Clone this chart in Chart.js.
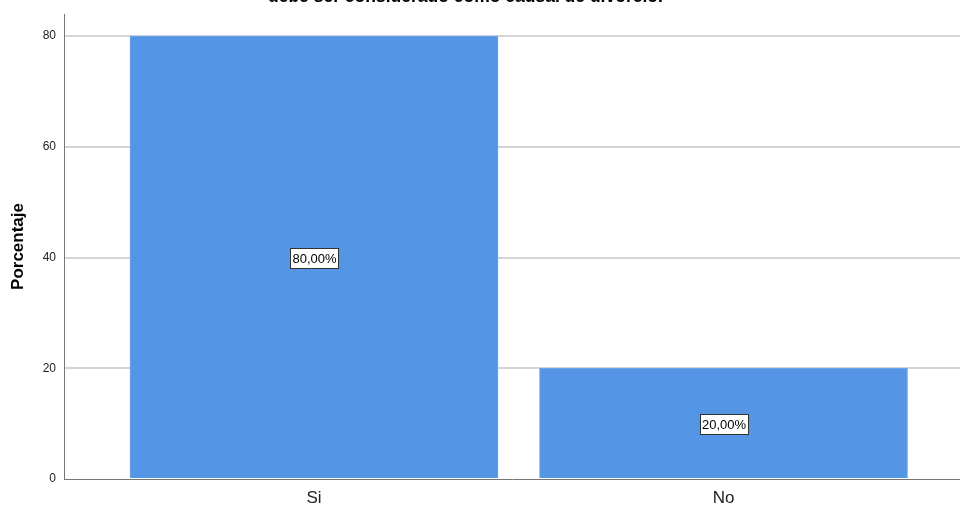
<!DOCTYPE html>
<html>
<head>
<meta charset="utf-8">
<script src="https://cdn.jsdelivr.net/npm/chart.js@4.4.1/dist/chart.umd.min.js"></script>
<style>
    html, body { margin: 0; padding: 0; background: #fff; overflow: hidden; }
    #wrap { position: absolute; left: 0; top: -16px; width: 960px; height: 524px; }
</style>
</head>
<body>
<div id="wrap"><canvas id="graph"></canvas></div>
<script>
// data
var categories = ['Si', 'No'];
var porcentaje = [80, 20];
var etiquetas = ['80,00%', '20,00%'];
var yTicks = [0, 20, 40, 60, 80];

var fontFam = '"Liberation Sans", Arial, sans-serif';

// white boxes with the percentage in the middle of each bar
var boxLabels = {
    id: 'boxLabels',
    afterDatasetsDraw: function (chart) {
        var ctx = chart.ctx;
        var meta = chart.getDatasetMeta(0);
        var yScale = chart.scales.y;
        ctx.save();
        ctx.font = '13px ' + fontFam;
        ctx.textAlign = 'center';
        ctx.textBaseline = 'middle';
        meta.data.forEach(function (bar, i) {
            var x = bar.x;
            var y = yScale.getPixelForValue(porcentaje[i] / 2);
            var w = Math.round(ctx.measureText(etiquetas[i]).width + 4);
            var h = 20;
            var left = Math.round(x - w / 2), top = Math.round(y - h / 2);
            ctx.fillStyle = '#ffffff';
            ctx.fillRect(left, top, w, h);
            ctx.strokeStyle = '#333333';
            ctx.lineWidth = 1;
            ctx.strokeRect(left + 0.5, top + 0.5, w, h);
            ctx.fillStyle = '#000000';
            ctx.fillText(etiquetas[i], x + 0.5, y + 1.5);
        });
        ctx.restore();
    }
};

var graphTarget = document.getElementById('graph');
var barGraph = new Chart(graphTarget, {
    type: 'bar',
    data: {
        datasets: [{
            label: 'Porcentaje',
            data: porcentaje.map(function (v, i) { return {x: i, y: v}; }),
            backgroundColor: '#5595e5',
            borderColor: '#6aa3ea',
            borderWidth: 1,
            barThickness: 368
        }]
    },
    options: {
        responsive: true,
        maintainAspectRatio: false,
        animation: false,
        layout: { padding: 0 },
        plugins: {
            legend: { display: false },
            tooltip: { enabled: false },
            title: {
                display: true,
                text: 'debe ser considerado como causal de divorcio.      ',
                color: '#000',
                font: { family: fontFam, size: 17.5, weight: 'bold' },
                padding: { top: 3, bottom: 6 }
            }
        },
        scales: {
            x: {
                type: 'linear',
                offset: false,
                min: -0.6105,
                max: 1.5775,
                afterBuildTicks: function (scale) {
                    scale.ticks = categories.map(function (c, i) { return {value: i}; });
                },
                afterFit: function (scale) { scale.height = 29; },
                ticks: {
                    callback: function (v) { return categories[v]; },
                    color: '#222',
                    font: { family: fontFam, size: 17 },
                    padding: 9,
                    maxRotation: 0
                },
                grid: { display: false, drawTicks: false, offset: false },
                border: { display: true, color: '#777', width: 1 }
            },
            y: {
                min: 0,
                max: 84,
                afterBuildTicks: function (scale) {
                    scale.ticks = yTicks.map(function (v) { return {value: v}; });
                },
                afterFit: function (scale) { scale.width = 64; },
                ticks: {
                    color: '#222',
                    font: { family: fontFam, size: 12 },
                    padding: 8
                },
                grid: {
                    color: function (c) { return c.tick && c.tick.value === 0 ? 'rgba(0,0,0,0)' : '#d4d4d4'; },
                    lineWidth: 2,
                    drawTicks: false
                },
                border: { display: true, color: '#777', width: 1 },
                title: {
                    display: true,
                    text: 'Porcentaje',
                    color: '#000',
                    font: { family: fontFam, size: 17, weight: 'bold' },
                    padding: { top: 8, bottom: 3 }
                }
            }
        }
    },
    plugins: [boxLabels]
});
</script>
</body>
</html>
